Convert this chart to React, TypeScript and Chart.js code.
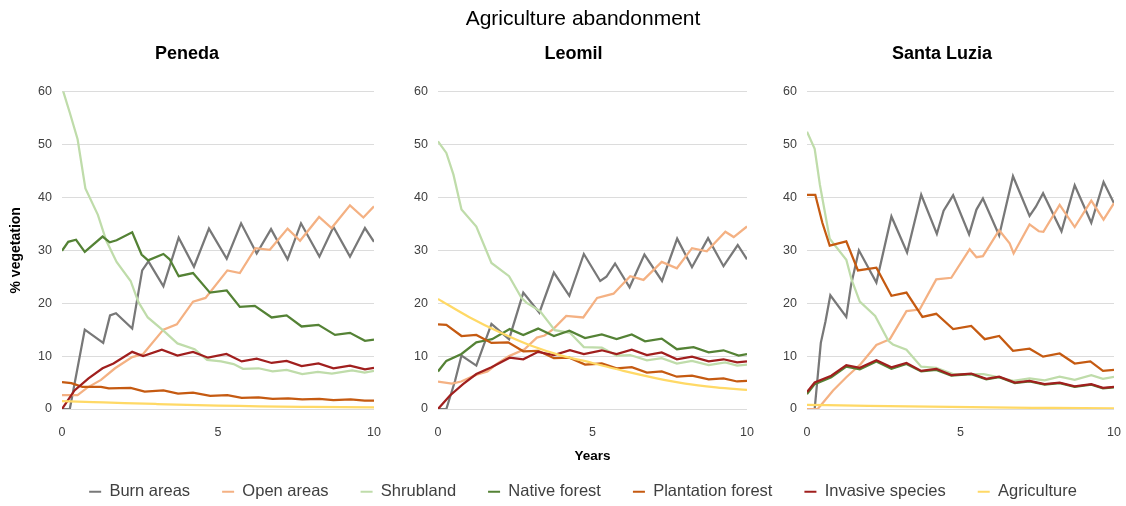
import React, { useEffect, useRef } from 'react';
import { Chart, registerables } from 'chart.js';

Chart.register(...registerables);

const FONT = "'Liberation Sans', Arial, Helvetica, sans-serif";
Chart.defaults.font.family = FONT;

// ---------- categories / labels ----------
const chartTitle = 'Agriculture abandonment';
const siteNames = ['Peneda', 'Leomil', 'Santa Luzia'];
const seriesNames = [
  'Burn areas',
  'Open areas',
  'Shrubland',
  'Native forest',
  'Plantation forest',
  'Invasive species',
  'Agriculture',
];
const seriesColors = ['#787878', '#f4b183', '#bfdcaa', '#548235', '#c55a11', '#a01f1e', '#ffd966'];
const xAxisTitle = 'Years';
const yAxisTitle = '% vegetation';

// ---------- series values: [year, % vegetation] ----------
// Peneda
const penedaBurn: [number, number][] = [[0,0],[0.25,0],[0.73,15],[1.32,12.5],[1.54,17.7],[1.73,18.1],[2.25,15.2],[2.57,26.2],[2.77,27.9],[3.25,23.2],[3.74,32.4],[4.23,26.9],[4.71,34.1],[5.28,28.4],[5.74,35.1],[6.24,29.4],[6.7,34.0],[7.23,28.3],[7.66,35.1],[8.25,28.8],[8.7,34.4],[9.23,28.8],[9.71,34.2],[10,31.6]];
const penedaOpen: [number, number][] = [[0,2.6],[0.5,2.6],[0.8,4.0],[1.25,5.5],[1.7,7.7],[2.25,9.8],[2.6,10.4],[3.25,15.0],[3.68,16.0],[4.2,20.3],[4.6,21.0],[5.3,26.2],[5.7,25.7],[6.2,30.4],[6.66,30.1],[7.23,34.1],[7.63,31.8],[8.24,36.3],[8.64,34.2],[9.23,38.5],[9.66,36.2],[10,38.3]];
const penedaShrub: [number, number][] = [[0,60.8],[0.25,56],[0.5,51],[0.75,41.7],[1.15,36.7],[1.42,31.8],[1.75,27.8],[2.2,24.2],[2.45,20.2],[2.75,17.3],[3.25,14.8],[3.7,12.4],[4.25,11.3],[4.65,9.3],[5.1,9.0],[5.5,8.5],[5.8,7.6],[6.3,7.7],[6.75,7.1],[7.2,7.4],[7.7,6.6],[8.2,7.0],[8.65,6.7],[9.3,7.3],[9.7,6.9],[10,7.2]];
const penedaNative: [number, number][] = [[0,29.9],[0.2,31.6],[0.45,32.0],[0.73,29.7],[1.3,32.6],[1.53,31.5],[1.75,31.9],[2.25,33.4],[2.55,29.2],[2.76,28.1],[3.25,29.3],[3.45,28.3],[3.74,25.1],[4.2,25.7],[4.74,22.0],[5.28,22.4],[5.7,19.3],[6.18,19.5],[6.72,17.3],[7.2,17.7],[7.68,15.6],[8.22,15.9],[8.75,14.0],[9.23,14.4],[9.71,12.9],[10,13.1]];
const penedaPlantation: [number, number][] = [[0,5.1],[0.3,4.9],[0.65,4.2],[1.25,4.2],[1.5,3.9],[2.2,4.0],[2.65,3.3],[3.25,3.5],[3.72,2.9],[4.2,3.1],[4.75,2.5],[5.3,2.6],[5.76,2.1],[6.3,2.2],[6.75,1.9],[7.25,2.0],[7.7,1.8],[8.25,1.9],[8.7,1.7],[9.25,1.8],[9.7,1.6],[10,1.6]];
const penedaInvasive: [number, number][] = [[0,0],[0.4,3.5],[0.85,5.8],[1.3,7.7],[1.65,8.6],[2.25,10.8],[2.6,10.0],[3.2,11.2],[3.7,10.1],[4.2,10.8],[4.68,9.7],[5.27,10.4],[5.76,9.0],[6.24,9.5],[6.72,8.7],[7.2,9.1],[7.68,8.1],[8.22,8.6],[8.7,7.7],[9.23,8.2],[9.71,7.5],[10,7.8]];
const penedaAgriculture: [number, number][] = [[0,1.5],[1,1.3],[2,1.1],[3,0.95],[4,0.8],[5,0.65],[6,0.55],[7,0.45],[8,0.4],[9,0.35],[10,0.3]];

// Leomil
const leomilBurn: [number, number][] = [[0,0],[0.27,0],[0.55,5.3],[0.76,10.1],[1.24,8.2],[1.73,16.1],[2.3,13.2],[2.76,22.0],[3.28,18.2],[3.75,25.8],[4.25,21.4],[4.72,29.3],[5.25,24.2],[5.45,25.0],[5.73,27.5],[6.2,23.0],[6.68,29.2],[7.25,24.2],[7.74,32.2],[8.22,26.8],[8.74,32.3],[9.24,27.0],[9.7,31.0],[10,28.3]];
const leomilOpen: [number, number][] = [[0,5.2],[0.45,4.8],[0.75,5.2],[1.25,6.5],[1.6,7.1],[1.9,8.5],[2.3,10.0],[2.8,11.3],[3.2,13.5],[3.45,13.9],[3.73,15.1],[4.15,17.6],[4.7,17.3],[5.15,21.0],[5.68,21.8],[6.22,25.1],[6.65,24.4],[7.24,27.8],[7.73,26.6],[8.22,30.4],[8.7,29.8],[9.3,33.5],[9.57,32.5],[10,34.5]];
const leomilShrub: [number, number][] = [[0,50.6],[0.27,48.4],[0.5,44.3],[0.76,37.7],[1.24,34.5],[1.73,27.6],[2.3,25.1],[2.7,21.0],[2.86,20.1],[3.3,18.5],[3.78,14.9],[4.27,14.4],[4.72,11.7],[5.3,11.6],[5.78,10.1],[6.22,10.2],[6.76,9.2],[7.24,9.6],[7.73,8.6],[8.22,9.1],[8.76,8.3],[9.3,8.8],[9.68,8.2],[10,8.4]];
const leomilNative: [number, number][] = [[0,7.1],[0.27,9.1],[0.76,10.4],[1.24,12.6],[1.57,13.0],[1.75,13.2],[2.32,15.1],[2.76,14.0],[3.24,15.2],[3.75,13.8],[4.25,14.8],[4.76,13.4],[5.3,14.1],[5.78,13.2],[6.27,14.1],[6.7,12.8],[7.24,13.3],[7.73,11.3],[8.27,11.7],[8.76,10.7],[9.24,11.1],[9.73,10.1],[10,10.4]];
const leomilPlantation: [number, number][] = [[0,16.0],[0.27,15.9],[0.76,13.8],[1.24,14.0],[1.73,12.5],[2.27,12.6],[2.76,10.9],[3.24,11.0],[3.75,9.6],[4.25,9.7],[4.76,8.4],[5.3,8.6],[5.78,7.7],[6.27,7.9],[6.76,6.9],[7.24,7.1],[7.73,6.1],[8.22,6.3],[8.76,5.6],[9.24,5.8],[9.68,5.2],[10,5.3]];
const leomilInvasive: [number, number][] = [[0,0],[0.38,2.5],[0.81,4.7],[1.24,6.6],[1.73,7.9],[2.32,9.7],[2.76,9.4],[3.24,10.8],[3.75,10.2],[4.27,11.1],[4.72,10.4],[5.3,11.1],[5.78,10.4],[6.27,11.2],[6.76,10.2],[7.24,10.7],[7.73,9.4],[8.22,9.9],[8.76,9.0],[9.24,9.4],[9.68,8.8],[10,9.0]];
const leomilAgriculture: [number, number][] = [[0,20.8],[1,17.4],[2,14.5],[3,12.0],[4,10.1],[5,8.7],[6,7.2],[7,5.9],[8,4.8],[9,4.1],[10,3.6]];

// Santa Luzia
const santaLuziaBurn: [number, number][] = [[0,0],[0.25,0],[0.45,12.5],[0.6,16.5],[0.76,21.5],[1.28,17.4],[1.44,23.6],[1.69,30.0],[2.26,23.9],[2.75,36.4],[3.26,29.6],[3.72,40.5],[4.23,33.1],[4.45,37.5],[4.76,40.4],[5.28,33.0],[5.52,37.7],[5.73,39.8],[6.26,32.8],[6.71,44.0],[7.25,36.5],[7.45,38.2],[7.69,40.8],[8.29,33.6],[8.72,42.3],[9.26,35.2],[9.66,42.9],[10,38.9]];
const santaLuziaOpen: [number, number][] = [[0,0],[0.35,0],[0.85,3.5],[1.28,6.0],[1.75,8.5],[2.26,12.1],[2.7,13.2],[3.24,18.5],[3.67,18.8],[4.21,24.5],[4.7,24.8],[5.3,30.2],[5.52,28.7],[5.73,28.9],[6.26,33.8],[6.6,31.3],[6.73,29.4],[7.25,34.9],[7.55,33.6],[7.7,33.5],[8.23,38.6],[8.72,34.4],[9.26,39.4],[9.66,35.8],[10,38.9]];
const santaLuziaShrub: [number, number][] = [[0,52.4],[0.25,49.2],[0.42,42.4],[0.74,32.2],[1.28,28.2],[1.45,24.5],[1.72,20.3],[2.22,17.6],[2.65,12.9],[2.8,12.2],[3.24,11.2],[3.72,8.0],[4.21,7.8],[4.76,6.6],[5.3,6.6],[5.75,6.6],[6.25,6.0],[6.72,5.3],[7.25,5.8],[7.74,5.4],[8.23,6.1],[8.72,5.5],[9.26,6.4],[9.64,5.7],[10,6.1]];
const santaLuziaNative: [number, number][] = [[0,2.8],[0.25,4.7],[0.79,6.0],[1.28,8.0],[1.72,7.5],[2.26,9.0],[2.75,7.6],[3.24,8.5],[3.72,7.1],[4.21,7.4],[4.7,6.3],[5.35,6.6],[5.84,5.6],[6.26,6.0],[6.77,4.9],[7.25,5.2],[7.74,4.6],[8.23,4.9],[8.72,4.2],[9.26,4.6],[9.64,3.9],[10,4.1]];
const santaLuziaPlantation: [number, number][] = [[0,40.5],[0.27,40.5],[0.5,35.2],[0.74,30.9],[1.28,31.7],[1.66,26.2],[2.26,26.7],[2.75,21.4],[3.24,22.0],[3.76,17.4],[4.21,18.0],[4.76,15.1],[5.35,15.7],[5.79,13.2],[6.26,13.8],[6.71,11.0],[7.25,11.4],[7.69,9.9],[8.23,10.5],[8.72,8.6],[9.23,9.0],[9.64,7.2],[10,7.4]];
const santaLuziaInvasive: [number, number][] = [[0,3.2],[0.25,5.0],[0.79,6.3],[1.28,8.3],[1.72,7.8],[2.26,9.2],[2.75,7.9],[3.24,8.7],[3.72,7.2],[4.21,7.6],[4.7,6.4],[5.35,6.7],[5.84,5.7],[6.26,6.1],[6.77,5.0],[7.25,5.3],[7.74,4.7],[8.23,5.0],[8.72,4.3],[9.26,4.7],[9.64,4.0],[10,4.2]];
const santaLuziaAgriculture: [number, number][] = [[0,0.8],[2,0.6],[4,0.45],[6,0.3],[8,0.2],[10,0.1]];

const penedaSeries = [penedaBurn, penedaOpen, penedaShrub, penedaNative, penedaPlantation, penedaInvasive, penedaAgriculture];
const leomilSeries = [leomilBurn, leomilOpen, leomilShrub, leomilNative, leomilPlantation, leomilInvasive, leomilAgriculture];
const santaLuziaSeries = [santaLuziaBurn, santaLuziaOpen, santaLuziaShrub, santaLuziaNative, santaLuziaPlantation, santaLuziaInvasive, santaLuziaAgriculture];

// axis ranges
const xMin = 0;
const xMax = 10;
const xStep = 5;
const yMin = 0;
const yMax = 60;
const yStep = 10;

const TICK_COLOR = '#404040';
const PANEL_H = 470;

type PanelProps = {
  site: string;
  series: [number, number][][];
  left: number;
  width: number;
  yAxisWidth: number;
  rightPad: number;
  showYTitle: boolean;
  showXTitle: boolean;
};

function Panel(p: PanelProps) {
  const ref = useRef<HTMLCanvasElement>(null);
  useEffect(() => {
    const n = seriesNames.length;
    const chart = new Chart(ref.current as HTMLCanvasElement, {
      type: 'line',
      data: {
        datasets: seriesNames.map((name, i) => ({
          label: name,
          data: p.series[i].map(([x, y]) => ({ x, y })),
          borderColor: seriesColors[i],
          backgroundColor: seriesColors[i],
          borderWidth: 2.25,
          pointRadius: 0,
          pointHoverRadius: 0,
          tension: 0,
          cubicInterpolationMode: i === n - 1 ? 'monotone' : 'default',
          order: n - 1 - i,
        })),
      },
      options: {
        responsive: false,
        animation: false,
        events: [],
        layout: { padding: { left: 0, right: p.rightPad, top: 0, bottom: 0 } },
        plugins: {
          legend: { display: false },
          tooltip: { enabled: false },
          title: {
            display: true,
            text: p.site,
            color: '#000',
            font: { family: FONT, size: 18, weight: 'bold', lineHeight: 1.2 },
            padding: { top: 43, bottom: 27 },
          },
        },
        scales: {
          x: {
            type: 'linear',
            min: xMin,
            max: xMax,
            ticks: { stepSize: xStep, padding: 16, color: TICK_COLOR, font: { family: FONT, size: 12.5 } },
            grid: { display: false, drawTicks: false },
            border: { display: false },
            title: {
              display: p.showXTitle,
              text: xAxisTitle,
              color: '#000',
              font: { family: FONT, size: 13.5, weight: 'bold', lineHeight: 1.2 },
              padding: { top: 0, bottom: 6 },
            },
            afterFit: (s: any) => { s.height = 61; },
          },
          y: {
            type: 'linear',
            min: yMin,
            max: yMax,
            ticks: { stepSize: yStep, padding: 10, color: TICK_COLOR, font: { family: FONT, size: 12.5 } },
            grid: { color: '#dcdcdc', drawTicks: false, lineWidth: 1 },
            border: { display: false },
            title: {
              display: p.showYTitle,
              text: yAxisTitle,
              color: '#000',
              font: { family: FONT, size: 14, weight: 'bold', lineHeight: 1.2 },
              padding: { top: 8, bottom: 0 },
            },
            afterFit: (s: any) => { s.width = p.yAxisWidth; },
          },
        },
      } as any,
    });
    return () => chart.destroy();
  }, []);
  return (
    <canvas
      ref={ref}
      width={p.width}
      height={PANEL_H}
      style={{ position: 'absolute', left: p.left, top: 0, width: p.width, height: PANEL_H }}
    />
  );
}

function TitleAndLegend() {
  const ref = useRef<HTMLCanvasElement>(null);
  useEffect(() => {
    const chart = new Chart(ref.current as HTMLCanvasElement, {
      type: 'line',
      data: {
        datasets: seriesNames.map((name, i) => ({
          label: name,
          data: [],
          borderColor: seriesColors[i],
          backgroundColor: seriesColors[i],
          borderWidth: 2,
          pointStyle: 'line',
        })),
      },
      options: {
        responsive: false,
        animation: false,
        events: [],
        layout: { padding: { left: 40, right: 0, top: 0, bottom: 0 } },
        scales: { x: { display: false }, y: { display: false } },
        plugins: {
          tooltip: { enabled: false },
          title: {
            display: true,
            text: chartTitle,
            color: '#000',
            font: { family: FONT, size: 21, weight: 'normal', lineHeight: 1.2 },
            padding: { top: 7, bottom: 0 },
          },
          legend: {
            display: true,
            position: 'bottom',
            labels: {
              usePointStyle: true,
              pointStyle: 'line',
              pointStyleWidth: 12,
              padding: 32,
              color: TICK_COLOR,
              font: { family: FONT, size: 16.5 },
            },
          },
        },
      } as any,
    });
    return () => chart.destroy();
  }, []);
  return (
    <canvas
      ref={ref}
      width={1126}
      height={510}
      style={{ position: 'absolute', left: 0, top: 0, width: 1126, height: 510 }}
    />
  );
}

export default function App() {
  return (
    <div
      style={{
        position: 'absolute',
        left: 0,
        top: 0,
        width: 1126,
        height: 506,
        overflow: 'hidden',
        background: '#fff',
      }}
    >
      <TitleAndLegend />
      <Panel site={siteNames[0]} series={penedaSeries} left={0} width={436} yAxisWidth={62} rightPad={62} showYTitle={true} showXTitle={false} />
      <Panel site={siteNames[1]} series={leomilSeries} left={400} width={385} yAxisWidth={38} rightPad={38} showYTitle={false} showXTitle={true} />
      <Panel site={siteNames[2]} series={santaLuziaSeries} left={770} width={381} yAxisWidth={37} rightPad={37} showYTitle={false} showXTitle={false} />
    </div>
  );
}
